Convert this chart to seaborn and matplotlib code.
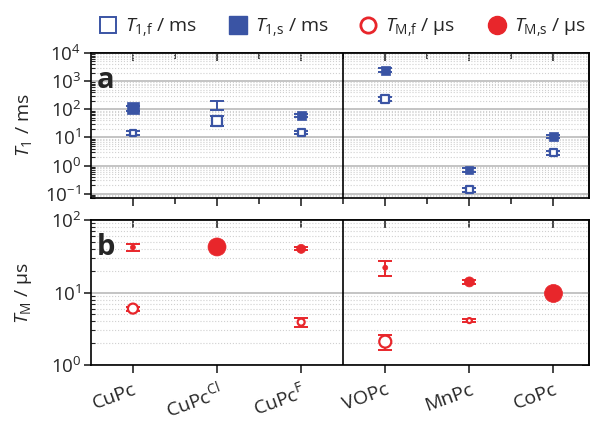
import matplotlib
matplotlib.use("Agg")
import matplotlib.pyplot as plt
import matplotlib.ticker as mticker
from matplotlib.lines import Line2D
import numpy as np
import pandas as pd
import seaborn as sns

# categories
compounds = ["CuPc", "CuPc$^{\\mathrm{Cl}}$", "CuPc$^{\\mathrm{F}}$", "VOPc", "MnPc", "CoPc"]

# panel a: T1 in ms (value, lower, upper)
t1f = [14.5, 37, 15, 230, 0.135, 2.8]
t1f_lo = [12, 25, 13, 200, 0.115, 2.4]
t1f_hi = [16.5, 57, 17, 265, 0.155, 3.2]
t1s = [110, 135, 62, 2450, 0.69, 11]
t1s_lo = [90, 93, 54, 2050, 0.6, 9.5]
t1s_hi = [135, 195, 70, 2850, 0.8, 12.5]

# panel b: TM in us (value, lower, upper)
tmf = [6.0, np.nan, 3.9, 2.1, 4.1, np.nan]
tmf_lo = [5.6, np.nan, 3.3, 1.6, 3.9, np.nan]
tmf_hi = [6.4, np.nan, 4.5, 2.6, 4.3, np.nan]
tms = [42, 42.5, 40, 22, 14, 9.7]
tms_lo = [37, 42.5, 38, 17, 13.3, 9.7]
tms_hi = [47, 42.5, 42, 27, 14.7, 9.7]

# marker diameters in pixels, per point
t1f_px = [6, 10, 7, 8, 7, 7]
t1s_px = [12, 0, 9, 9, 8, 9]
tmf_px = [10, 0, 7, 12, 5, 0]
tms_px = [5, 18, 9, 5, 10, 18]

legend_labels = [
    "$\\mathit{T}_{\\mathrm{1{,}f}}$ / ms",
    "$\\mathit{T}_{\\mathrm{1{,}s}}$ / ms",
    "$\\mathit{T}_{\\mathrm{M{,}f}}$ / µs",
    "$\\mathit{T}_{\\mathrm{M{,}s}}$ / µs",
]

BLUE = "#3a54a4"
RED = "#e8262b"

sns.set_theme(style="ticks")
plt.rcParams["font.family"] = ["Open Sans", "DejaVu Sans"]
plt.rcParams["mathtext.fontset"] = "custom"
plt.rcParams["mathtext.rm"] = "Open Sans"
plt.rcParams["mathtext.it"] = "Open Sans:italic"
plt.rcParams["mathtext.bf"] = "Open Sans:bold"

x = np.arange(len(compounds))


def draw_series(ax, vals, lo, hi, px, color, marker, filled):
    d = pd.DataFrame({"x": x, "y": vals, "lo": lo, "hi": hi, "px": px}).dropna()
    err = np.vstack([d["y"] - d["lo"], d["hi"] - d["y"]])
    ax.errorbar(d["x"], d["y"], yerr=err, fmt="none", ecolor=color, elinewidth=1.4,
                capsize=5, capthick=1.4, zorder=3)
    sizes = ((d["px"] * 0.72) ** 2).to_numpy()
    sns.scatterplot(data=d, x="x", y="y", ax=ax, s=sizes, marker=marker,
                    color=color if filled else "white", edgecolor=color,
                    linewidth=1.6 if not filled else 0.5, legend=False, zorder=4)


def style_axes(ax, ylim, label, panel, show_labels, minor_top):
    ax.set_yscale("log")
    ax.set_ylim(*ylim)
    ax.set_xlim(-0.5, 5.42)
    ax.axvline(2.5, color="black", lw=1.2, zorder=2)
    ax.yaxis.set_major_locator(mticker.LogLocator(base=10, numticks=10))
    ax.yaxis.set_minor_locator(mticker.LogLocator(base=10, subs=np.arange(2, 10), numticks=20))
    ax.yaxis.set_minor_formatter(mticker.NullFormatter())
    ax.grid(axis="y", which="major", color="#c4c4c4", lw=1.4, zorder=0)
    ax.grid(axis="y", which="minor", color="#d0d0d0", lw=0.8, ls=":", zorder=0)
    ax.set_axisbelow(True)
    ax.set_xticks(x)
    if show_labels:
        ax.set_xticklabels(compounds, rotation=20, ha="right", rotation_mode="anchor", fontsize=14)
    else:
        ax.set_xticklabels([])
        ax.set_xticks(x[:-1] + 0.5, minor=True)
    ax.tick_params(axis="x", which="major", direction="out", length=6, width=1.2, pad=5)
    ax.tick_params(axis="x", which="minor", direction="out", length=4, width=1.2)
    ax.tick_params(axis="y", which="major", direction="out", length=5, width=1.2, labelsize=13.5, pad=2)
    ax.tick_params(axis="y", which="minor", direction="in", length=3, width=0.8)
    for s in ax.spines.values():
        s.set_linewidth(1.2)
        s.set_color("black")
    ax.set_xlabel("")
    ax.set_ylabel(label, fontsize=14)
    ax.yaxis.set_label_coords(-0.115, 0.5)
    ax.text(0.012, 0.81, panel, transform=ax.transAxes, fontsize=21, fontweight="bold",
            va="center", ha="left")

    top = ax.secondary_xaxis("top")
    top.set_xticks(x)
    top.set_xticklabels([])
    if minor_top:
        top.set_xticks(x[:-1] + 0.5, minor=True)
    top.tick_params(axis="x", which="both", direction="in", length=6, width=1.2)
    top.tick_params(axis="x", which="minor", length=4)
    right = ax.secondary_yaxis("right")
    right.yaxis.set_major_locator(mticker.LogLocator(base=10, numticks=10))
    right.yaxis.set_minor_locator(mticker.NullLocator())
    right.set_yticklabels([])
    right.tick_params(axis="y", direction="in", length=5, width=1.2)


fig = plt.figure(figsize=(5.9, 4.21), dpi=100)
ax1 = fig.add_axes([0.154, 0.5297, 0.844, 0.3444])
ax2 = fig.add_axes([0.154, 0.133, 0.844, 0.3444])

draw_series(ax1, t1f, t1f_lo, t1f_hi, t1f_px, BLUE, "s", False)
draw_series(ax1, t1s, t1s_lo, t1s_hi, t1s_px, BLUE, "s", True)
draw_series(ax2, tmf, tmf_lo, tmf_hi, tmf_px, RED, "o", False)
draw_series(ax2, tms, tms_lo, tms_hi, tms_px, RED, "o", True)

style_axes(ax1, (0.07, 1e4), "$\\mathit{T}_{\\mathrm{1}}$ / ms", "a", False, True)
style_axes(ax2, (1, 100), "$\\mathit{T}_{\\mathrm{M}}$ / µs", "b", True, False)

handles = [
    Line2D([], [], ls="none", marker="s", ms=12, mfc="white", mec=BLUE, mew=1.4),
    Line2D([], [], ls="none", marker="s", ms=12.5, mfc=BLUE, mec=BLUE),
    Line2D([], [], ls="none", marker="o", ms=11, mfc="white", mec=RED, mew=2),
    Line2D([], [], ls="none", marker="o", ms=13, mfc=RED, mec=RED),
]
for h, lab, xpos in zip(handles, legend_labels, [99, 229, 359, 488]):
    leg = fig.legend([h], [lab], loc="center left", bbox_to_anchor=(xpos / 590, 1 - 28 / 421),
                     frameon=False, fontsize=14, borderpad=0, borderaxespad=0,
                     handlelength=0.95, handletextpad=0.4)

fig.savefig("out.png", dpi=100)
